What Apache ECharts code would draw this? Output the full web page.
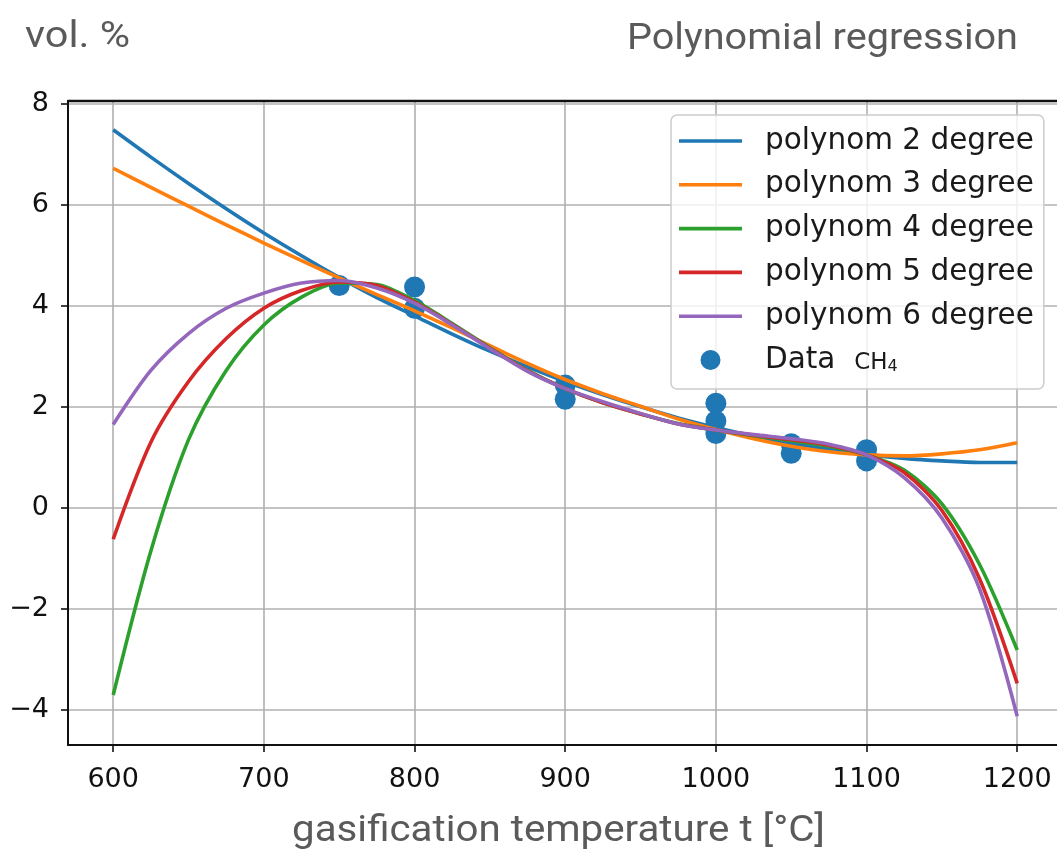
<!DOCTYPE html>
<html><head><meta charset="utf-8">
<script src="https://cdn.jsdelivr.net/npm/echarts@6/dist/echarts.min.js"></script>
<style>html,body{margin:0;padding:0;background:#fff;}#c{width:1057px;height:855px;}</style>
</head><body><div id="c"></div>
<script>
// ---- data ----
const temps = [600,625,650,675,700,725,750,775,800,825,850,875,900,925,950,975,1000,1025,1050,1075,1100,1125,1150,1175,1200];
const poly2 = [7.48,6.94,6.42,5.92,5.44,4.99,4.56,4.16,3.80,3.44,3.10,2.79,2.50,2.24,2.00,1.78,1.59,1.42,1.28,1.16,1.06,0.98,0.93,0.90,0.90];
const poly3 = [6.72,6.34,5.97,5.60,5.24,4.89,4.55,4.22,3.90,3.56,3.21,2.86,2.54,2.26,2.01,1.76,1.55,1.37,1.22,1.11,1.05,1.03,1.07,1.15,1.29];
const poly4 = [-3.70,-0.85,1.35,2.72,3.62,4.17,4.45,4.42,4.10,3.65,3.17,2.72,2.36,2.08,1.86,1.67,1.54,1.43,1.33,1.22,1.05,0.75,0.08,-1.12,-2.81];
const poly5 = [-0.62,1.30,2.50,3.35,3.95,4.30,4.47,4.40,4.07,3.63,3.16,2.71,2.36,2.08,1.86,1.66,1.54,1.44,1.35,1.24,1.05,0.70,-0.05,-1.40,-3.47];
const poly6 = [1.65,2.72,3.45,3.95,4.25,4.45,4.50,4.35,4.05,3.62,3.15,2.70,2.36,2.10,1.87,1.66,1.54,1.45,1.37,1.26,1.05,0.60,-0.20,-1.60,-4.12];
const dataT = [750,800,800,900,900,1000,1000,1000,1050,1050,1100,1100];
const dataV = [4.40,4.37,3.95,2.43,2.15,2.07,1.72,1.47,1.27,1.08,1.15,0.93];
const seriesNames = ['polynom 2 degree','polynom 3 degree','polynom 4 degree','polynom 5 degree','polynom 6 degree'];
const dataName = 'Data  CH₄';
const xTicks = [600,700,800,900,1000,1100,1200];
const yTicks = [-4,-2,0,2,4,6,8];
const titleText = 'Polynomial regression';
const yUnitText = 'vol. %';
const xTitleText = 'gasification temperature t [°C]';
// ----------------------------------------------

const colors = ['#1f77b4','#ff7f0e','#2ca02c','#d62728','#9467bd'];
const curves = [poly2, poly3, poly4, poly5, poly6];

const mctx = document.createElement('canvas').getContext('2d');
function fitScale(text, font, targetW) {
  mctx.font = font;
  return targetW / mctx.measureText(text).width;
}
const grayFont = '36px Roboto';
const grayFontX = '37px Roboto';
const lineIcon = 'path://M0,0L63,0L63,3.6L0,3.6Z';

const chart = echarts.init(document.getElementById('c'), null, {renderer: 'canvas'});

const lineSeries = curves.map((vals, i) => ({
  name: seriesNames[i],
  type: 'line',
  data: temps.map((t, j) => [t, vals[j]]),
  smooth: 0.3,
  symbol: 'none',
  showSymbol: false,
  z: 3,
  lineStyle: {color: colors[i], width: 3.6},
  itemStyle: {color: colors[i]},
  emphasis: {disabled: true}
}));

const fmt = v => String(v).replace('-', '\u2212');

const option = {
  animation: false,
  backgroundColor: '#fff',
  grid: {left: 68, top: 101, right: 0, bottom: 110, show: false},
  xAxis: [{
    type: 'value', min: 570, max: 1226.4, minInterval: 100, maxInterval: 100,
    axisLine: {onZero: false, lineStyle: {color: '#111', width: 2}},
    axisTick: {customValues: xTicks, length: 7, lineStyle: {color: '#111', width: 1.6}},
    axisLabel: {customValues: xTicks, fontSize: 27, fontFamily: 'DejaVu Sans', color: '#111', margin: 21, formatter: fmt},
    splitLine: {show: true, lineStyle: {color: '#b0b0b0', width: 1.6}}
  }, {
    type: 'value', position: 'top', min: 570, max: 1226.4,
    axisLine: {show: true, onZero: false, lineStyle: {color: '#111', width: 2.4}},
    axisTick: {show: false}, axisLabel: {show: false}, splitLine: {show: false}
  }],
  yAxis: {
    type: 'value', min: -4.69, max: 8.05, minInterval: 2, maxInterval: 2,
    axisLine: {show: true, onZero: false, lineStyle: {color: '#111', width: 2}},
    axisTick: {show: true, customValues: yTicks, length: 7, lineStyle: {color: '#111', width: 1.6}},
    axisLabel: {customValues: yTicks, fontSize: 27, fontFamily: 'DejaVu Sans', color: '#111', margin: 19, formatter: fmt},
    splitLine: {show: true, lineStyle: {color: '#b0b0b0', width: 1.6}}
  },
  legend: {
    orient: 'vertical', left: 671, top: 115, align: 'left',
    padding: [11, 10, 14, 8],
    itemWidth: 63, itemHeight: 20, itemGap: 13.8,
    backgroundColor: 'rgba(255,255,255,0.8)', borderColor: '#cccccc', borderWidth: 1.5, borderRadius: 6,
    data: seriesNames.map(n => ({name: n, icon: lineIcon})).concat([{name: dataName, icon: 'circle'}]),
    formatter: function (name) { return name === dataName ? '{d|Data  }{ch|CH}{sub|4}' : name; },
    textStyle: {
      fontSize: 29.5, fontFamily: 'DejaVu Sans', color: '#1a1a1a', lineHeight: 30, padding: [0, 0, 0, 18],
      rich: {
        d: {fontSize: 29.5, fontFamily: 'DejaVu Sans', color: '#1a1a1a', verticalAlign: 'bottom'},
        ch: {fontSize: 23, fontFamily: 'DejaVu Sans', color: '#1a1a1a', verticalAlign: 'bottom'},
        sub: {fontSize: 16, fontFamily: 'DejaVu Sans', color: '#1a1a1a', verticalAlign: 'bottom'}
      }
    },
    selectedMode: false
  },
  graphic: [
    {type: 'text', x: 25, y: 38, scaleX: fitScale(yUnitText, grayFont, 105), originX: 0,
     style: {text: yUnitText, font: grayFont, fill: '#5a5a5a', align: 'left', verticalAlign: 'middle'}},
    {type: 'text', x: 627, y: 40, scaleX: fitScale(titleText, grayFont, 391), originX: 0,
     style: {text: titleText, font: grayFont, fill: '#5a5a5a', align: 'left', verticalAlign: 'middle'}},
    {type: 'text', x: 292, y: 832, scaleX: fitScale(xTitleText, grayFontX, 533), originX: 0,
     style: {text: xTitleText, font: grayFontX, fill: '#5a5a5a', align: 'left', verticalAlign: 'middle'}}
  ],
  series: lineSeries.concat([{
    name: dataName,
    type: 'scatter',
    data: dataT.map((t, j) => [t, dataV[j]]),
    symbol: 'circle', symbolSize: 21, z: 2,
    itemStyle: {color: '#1f77b4', opacity: 1},
    emphasis: {disabled: true}
  }])
};
chart.setOption(option);
</script>
</body></html>
